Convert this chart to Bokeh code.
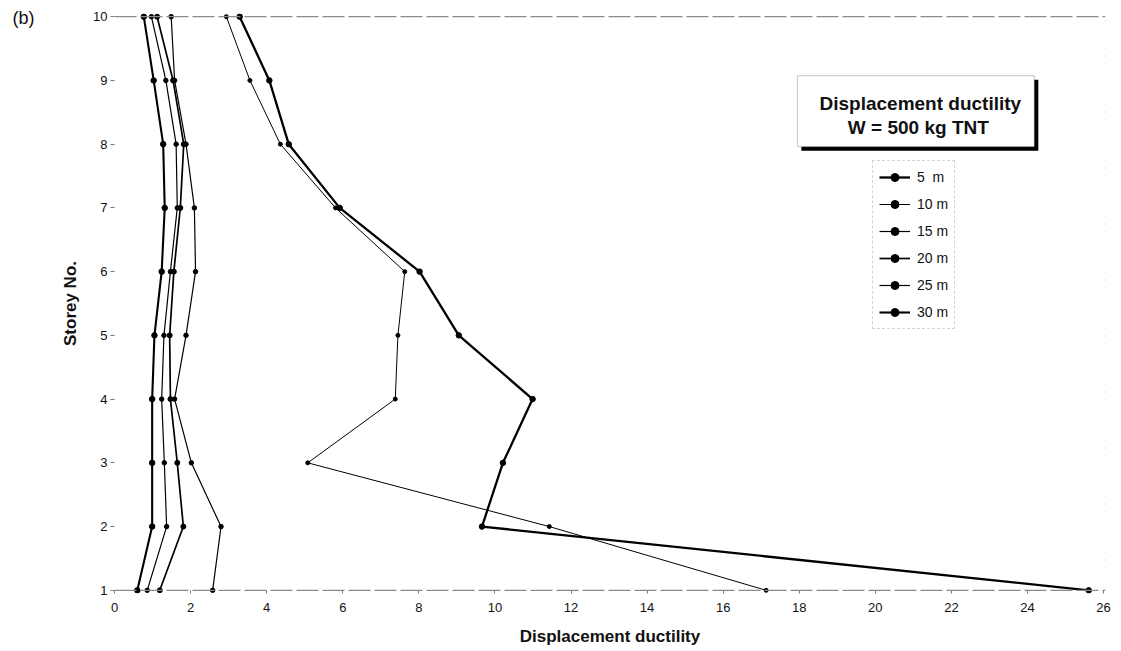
from bokeh.plotting import figure
from bokeh.models import (Range1d, Span, Label, BoxAnnotation, Legend,
                          LegendItem, FixedTicker)
from bokeh.embed import file_html
from bokeh.resources import INLINE

# ---- data ----
storeys = [1, 2, 3, 4, 5, 6, 7, 8, 9, 10]
d_5m = [25.61, 9.66, 10.21, 10.99, 9.05, 8.02, 5.92, 4.58, 4.07, 3.29]
d_10m = [17.13, 11.43, 5.08, 7.38, 7.45, 7.63, 5.81, 4.36, 3.56, 2.94]
d_15m = [2.58, 2.80, 2.02, 1.58, 1.88, 2.13, 2.10, 1.88, 1.58, 1.49]
d_20m = [1.19, 1.81, 1.65, 1.47, 1.45, 1.56, 1.73, 1.82, 1.54, 1.12]
d_25m = [0.86, 1.37, 1.31, 1.24, 1.30, 1.47, 1.65, 1.62, 1.35, 0.97]
d_30m = [0.60, 0.99, 0.99, 0.99, 1.05, 1.24, 1.32, 1.28, 1.03, 0.77]
series_names = ["5  m", "10 m", "15 m", "20 m", "25 m", "30 m"]
series_vals = [d_5m, d_10m, d_15m, d_20m, d_25m, d_30m]
x_ticks = list(range(0, 27, 2))
y_ticks = storeys

# ---- styles ----
line_widths = [2.3, 1.0, 1.2, 1.7, 1.2, 2.1]
marker_sizes = [5.5, 4, 4.5, 5, 4.5, 5.5]
FONT = "Liberation Sans"

# pixel helpers for annotation placement
def dx(px):
    return (px - 114) / 38.05

def dy(py):
    return 10 - (py - 16) / 63.7

p = figure(width=1121, height=651, output_backend="svg", toolbar_location=None,
           x_range=Range1d(0, 26.05), y_range=Range1d(0.95, 10.05),
           min_border_left=114, min_border_right=16,
           min_border_top=13, min_border_bottom=58)
p.outline_line_color = None
p.background_fill_color = "white"
p.border_fill_color = "white"
p.xgrid.grid_line_color = None
p.ygrid.grid_line_color = None

# panel tag "(b)" drawn as the plot title, pulled into the top-left corner
p.title.text = "(b)"
p.title.align = "left"
p.title.vertical_align = "bottom"
p.title.text_font = FONT
p.title.text_font_style = "normal"
p.title.text_font_size = "18px"
p.title.text_color = "#111111"
p.title.offset = -102
p.title.standoff = -28

# axes
p.xaxis.ticker = FixedTicker(ticks=x_ticks)
p.yaxis.ticker = FixedTicker(ticks=y_ticks)
for ax in (p.xaxis[0], p.yaxis[0]):
    ax.axis_line_color = None
    ax.minor_tick_line_color = None
    ax.major_label_text_font = FONT
    ax.major_label_text_font_size = "13px"
    ax.major_label_text_color = "#111111"
    ax.axis_label_text_font = FONT
    ax.axis_label_text_font_style = "bold"
    ax.axis_label_text_font_size = "17px"
    ax.axis_label_text_color = "#111111"
    ax.major_tick_line_color = "#777777"
p.xaxis.major_tick_in = 3
p.xaxis.major_tick_out = 0
p.xaxis.major_label_standoff = 9
p.xaxis.axis_label = "Displacement ductility"
p.xaxis.axis_label_standoff = 12
p.yaxis.major_tick_in = 0
p.yaxis.major_tick_out = 4
p.yaxis.major_label_standoff = 3
p.yaxis.axis_label = "Storey No."
p.yaxis.axis_label_standoff = 10

# frame lines (top / bottom / right, faint scan look)
p.add_layout(Span(location=10, dimension="width", line_color="#8a8a8a",
                  line_width=1.2, line_dash="22 4"))
p.add_layout(Span(location=1, dimension="width", line_color="#8a8a8a",
                  line_width=1.2, line_dash="22 4"))
p.add_layout(Span(location=26.05, dimension="height", line_color="#bbbbbb",
                  line_width=1, line_dash="1 6"))

# series
items = []
for name, vals, lw, ms in zip(series_names, series_vals, line_widths, marker_sizes):
    lr = p.line(vals, storeys, line_color="black", line_width=lw)
    sr = p.scatter(vals, storeys, marker="circle", size=ms,
                   fill_color="black", line_color="black")
    items.append(LegendItem(label=name, renderers=[lr, sr]))

legend = Legend(items=items, location=(758, 264),
                label_text_font=FONT, label_text_font_size="14px",
                label_text_color="#111111",
                label_height=20, glyph_height=20, glyph_width=31,
                spacing=7, padding=6, margin=0, label_standoff=7,
                border_line_color="#aaaaaa", border_line_dash="3 3",
                border_line_width=1, background_fill_color="white",
                background_fill_alpha=1.0)
p.add_layout(legend)

# title box with shadow
p.add_layout(BoxAnnotation(left=dx(801), right=dx(1038), top=dy(79), bottom=dy(150),
                           fill_color="black", fill_alpha=1.0, line_color=None))
p.add_layout(BoxAnnotation(left=dx(797), right=dx(1034), top=dy(75), bottom=dy(146),
                           fill_color="white", fill_alpha=1.0,
                           line_color="#444444", line_width=1))
p.add_layout(Label(x=dx(920), y=dy(103), text="Displacement ductility",
                   text_font=FONT, text_font_style="bold", text_font_size="19px",
                   text_align="center", text_baseline="middle", text_color="#111111"))
p.add_layout(Label(x=dx(918), y=dy(127), text="W = 500 kg TNT",
                   text_font=FONT, text_font_style="bold", text_font_size="19px",
                   text_align="center", text_baseline="middle", text_color="#111111"))

open("out.html", "w").write(file_html(p, INLINE))
